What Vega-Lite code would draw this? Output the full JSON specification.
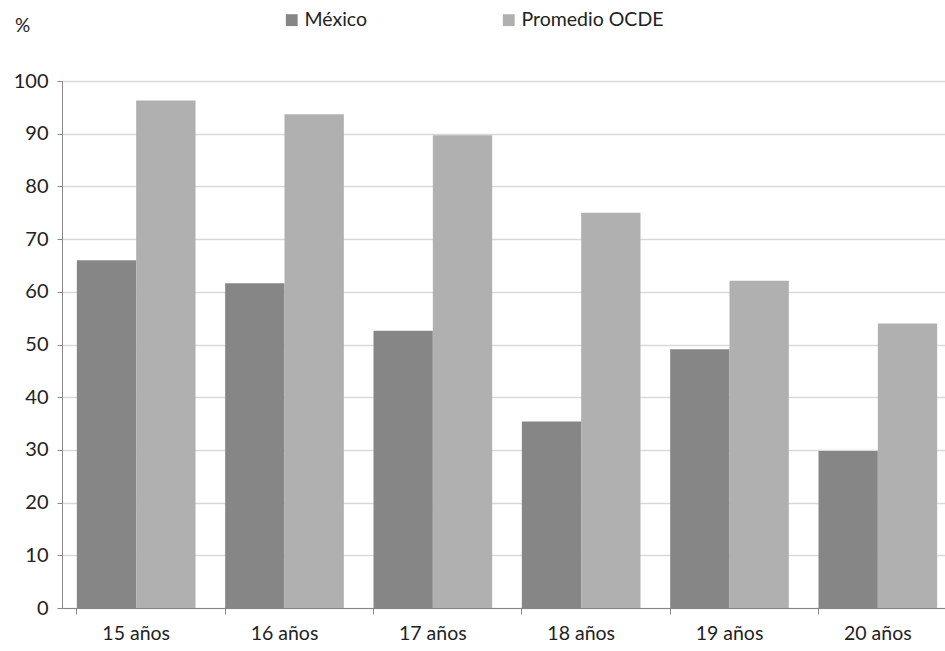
{
  "$schema": "https://vega.github.io/schema/vega-lite/v6.json",
  "width": 890,
  "height": 527,
  "autosize": "none",
  "padding": {"left": 62, "top": 81, "right": 0, "bottom": 43},
  "background": "white",
  "config": {
    "font": "Lato",
    "view": {"stroke": null}
  },
  "data": {
    "values": [
      {"edad": "15 años", "serie": "México", "valor": 66.0},
      {"edad": "15 años", "serie": "Promedio OCDE", "valor": 96.3},
      {"edad": "16 años", "serie": "México", "valor": 61.6},
      {"edad": "16 años", "serie": "Promedio OCDE", "valor": 93.7},
      {"edad": "17 años", "serie": "México", "valor": 52.6},
      {"edad": "17 años", "serie": "Promedio OCDE", "valor": 89.7},
      {"edad": "18 años", "serie": "México", "valor": 35.4},
      {"edad": "18 años", "serie": "Promedio OCDE", "valor": 75.0},
      {"edad": "19 años", "serie": "México", "valor": 49.1},
      {"edad": "19 años", "serie": "Promedio OCDE", "valor": 62.1},
      {"edad": "20 años", "serie": "México", "valor": 29.8},
      {"edad": "20 años", "serie": "Promedio OCDE", "valor": 54.0}
    ]
  },
  "mark": {"type": "bar"},
  "encoding": {
    "x": {
      "field": "edad",
      "type": "nominal",
      "sort": null,
      "scale": {"paddingInner": 0.2, "paddingOuter": 0.1},
      "axis": {
        "title": null,
        "labelAngle": 0,
        "labelFontSize": 19.5,
        "labelColor": "#222",
        "labelPadding": 10,
        "bandPosition": 0,
        "domainColor": "#888",
        "tickColor": "#888",
        "tickSize": 6,
        "grid": false
      }
    },
    "xOffset": {"field": "serie", "type": "nominal", "scale": {"paddingInner": 0, "paddingOuter": 0}},
    "y": {
      "field": "valor",
      "type": "quantitative",
      "scale": {"domain": [0, 100]},
      "axis": {
        "values": [0, 10, 20, 30, 40, 50, 60, 70, 80, 90, 100],
        "title": "%",
        "titleAngle": 0,
        "titleX": -40,
        "titleY": -46,
        "titleFontSize": 19,
        "titleFontWeight": "normal",
        "titleColor": "#222",
        "labelFontSize": 20,
        "labelColor": "#222",
        "labelPadding": 9,
        "domainColor": "#888",
        "tickColor": "#888",
        "tickSize": 5,
        "gridColor": "#d9d9d9",
        "gridWidth": 1.3
      }
    },
    "color": {
      "field": "serie",
      "type": "nominal",
      "scale": {"domain": ["México", "Promedio OCDE"], "range": ["#868686", "#b0b0b0"]},
      "legend": {
        "title": null,
        "orient": "none",
        "direction": "horizontal",
        "legendX": 220,
        "legendY": -71,
        "symbolType": "square",
        "symbolSize": 140,
        "symbolStrokeWidth": 0,
        "labelFontSize": 19.5,
        "labelColor": "#222",
        "labelOffset": 3,
        "columnPadding": 131
      }
    }
  }
}
